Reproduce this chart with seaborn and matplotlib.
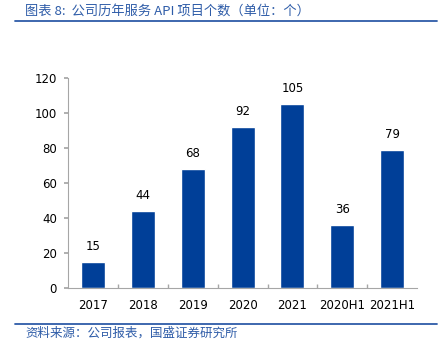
import matplotlib
matplotlib.use("Agg")
import matplotlib.pyplot as plt
from matplotlib.lines import Line2D
import seaborn as sns
import pandas as pd

categories = ["2017", "2018", "2019", "2020", "2021", "2020H1", "2021H1"]
api_counts = [15, 44, 68, 92, 105, 36, 79]
y_ticks = [0, 20, 40, 60, 80, 100, 120]

title_text = "图表 8:  公司历年服务 API 项目个数（单位：个）"
source_text = "资料来源：公司报表，国盛证券研究所"

sns.set_theme(style="white")
plt.rcParams["font.family"] = ["DejaVu Sans", "Noto Sans CJK SC"]

bar_color = "#003f98"
accent = "#2e5ca8"

df = pd.DataFrame({"category": categories, "count": api_counts})

fig = plt.figure(figsize=(4.48, 3.49), dpi=100)
ax = fig.add_axes([0.152, 0.175, 0.779, 0.602])

sns.barplot(data=df, x="category", y="count", color=bar_color,
            saturation=1, width=0.48, ax=ax)

ax.set_ylim(0, 120)
ax.set_xlim(-0.5, len(categories) - 0.5)
ax.set_yticks(y_ticks)
ax.set_xlabel("")
ax.set_ylabel("")

for s in ["top", "right"]:
    ax.spines[s].set_visible(False)
for s in ["left", "bottom"]:
    ax.spines[s].set_color("#a6a6a6")
    ax.spines[s].set_linewidth(0.8)

ax.tick_params(axis="y", which="major", direction="out", length=3,
               color="#a6a6a6", labelsize=8.5, pad=5, left=True)
ax.tick_params(axis="x", which="major", length=0, labelsize=8.5, pad=8)
# small upward separators between categories
ax.set_xticks([i + 0.5 for i in range(len(categories) - 1)], minor=True)
ax.tick_params(axis="x", which="minor", direction="in", length=3,
               color="#a6a6a6", bottom=True)

for lbl in ax.get_xticklabels() + ax.get_yticklabels():
    lbl.set_color("black")

for i, v in enumerate(api_counts):
    ax.text(i, v + 5, str(v), ha="center", va="bottom", fontsize=8.5,
            color="black")

fig.text(0.056, 0.988, title_text, ha="left", va="top", fontsize=9.5,
         color=accent, style="italic",
         family=["Noto Sans CJK SC", "DejaVu Sans"])
fig.add_artist(Line2D([0.034, 0.976], [0.94, 0.94], color=accent,
                      linewidth=1.3, transform=fig.transFigure))
fig.add_artist(Line2D([0.034, 0.976], [0.072, 0.072], color=accent,
                      linewidth=1.3, transform=fig.transFigure))
fig.text(0.056, 0.063, source_text, ha="left", va="top", fontsize=9,
         color=accent, style="italic",
         family=["Noto Sans CJK SC", "DejaVu Sans"])

fig.savefig("out.png", dpi=100)
